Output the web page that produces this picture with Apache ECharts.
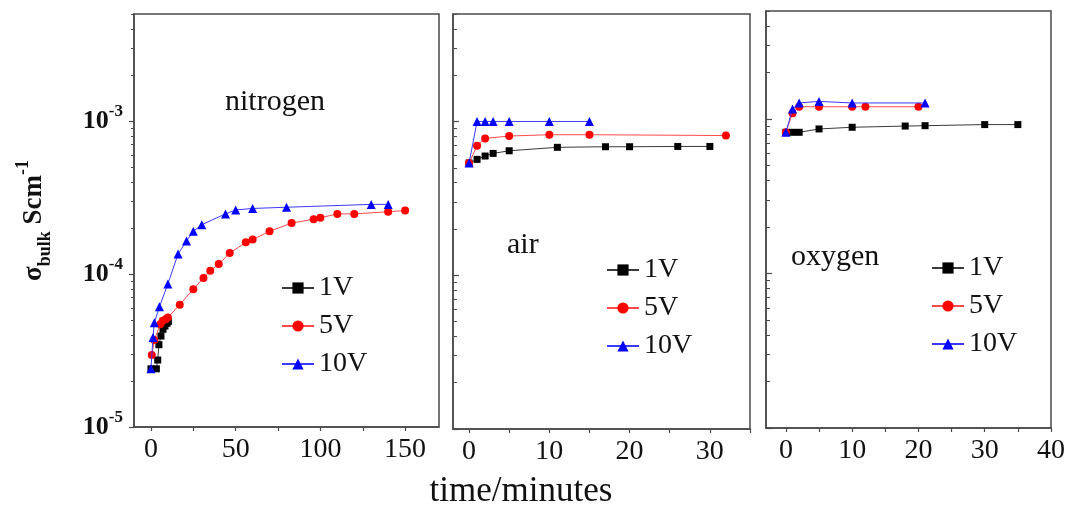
<!DOCTYPE html>
<html><head><meta charset="utf-8">
<script src="https://cdn.jsdelivr.net/npm/echarts@6/dist/echarts.min.js"></script>
<style>html,body{margin:0;padding:0;background:#fff}#c{width:1072px;height:512px}</style>
</head><body><div id="c"></div>
<script>
// ---------- data (time in minutes, sigma_bulk in S/cm) ----------
const seriesNames = ['1V', '5V', '10V'];
const panelNames = ['nitrogen', 'air', 'oxygen'];

const n2_1V = [[0,2.4e-5],[3.2,2.4e-5],[4,2.74e-5],[4.7,3.45e-5],[5.9,3.93e-5],[7.1,4.35e-5],[8.3,4.57e-5],[9.5,4.76e-5],[10.3,4.9e-5]];
const n2_5V = [[0.5,2.95e-5],[2,3.7e-5],[5.5,4.7e-5],[7,4.95e-5],[8.5,5.05e-5],[10,5.2e-5],[17,6.3e-5],[25,7.95e-5],[31,9.4e-5],[35,1.05e-4],[40,1.16e-4],[46.5,1.37e-4],[56,1.61e-4],[60,1.68e-4],[70,1.9e-4],[83,2.15e-4],[96,2.28e-4],[100,2.33e-4],[110,2.47e-4],[120,2.47e-4],[140,2.55e-4],[150,2.6e-4]];
const n2_10V = [[0,2.4e-5],[1.2,3.85e-5],[2,4.8e-5],[5,6.1e-5],[10,8.6e-5],[16,1.35e-4],[21,1.64e-4],[25,1.9e-4],[30,2.1e-4],[44,2.47e-4],[50,2.62e-4],[60,2.68e-4],[80,2.73e-4],[130,2.85e-4],[140,2.85e-4]];

const air_1V = [[0,5.37e-4],[1,5.67e-4],[2,5.96e-4],[3,6.2e-4],[5,6.45e-4],[11,6.79e-4],[17,6.85e-4],[20,6.85e-4],[26,6.88e-4],[30,6.88e-4]];
const air_5V = [[0,5.37e-4],[1,6.95e-4],[2,7.76e-4],[5,8.04e-4],[10,8.2e-4],[15,8.2e-4],[32,8.1e-4]];
const air_10V = [[0,5.37e-4],[1,1.0e-3],[2,1.0e-3],[3,1.0e-3],[5,1.0e-3],[10,1.0e-3],[15,1.0e-3]];

const o2_1V = [[0,8.2e-4],[1,8.2e-4],[2,8.2e-4],[5,8.62e-4],[10,8.84e-4],[18,9.0e-4],[21,9.05e-4],[30,9.2e-4],[35,9.2e-4]];
const o2_5V = [[0,8.2e-4],[1,1.09e-3],[2,1.2e-3],[5,1.2e-3],[10,1.2e-3],[12,1.2e-3],[20,1.2e-3]];
const o2_10V = [[0,8.2e-4],[1,1.16e-3],[2,1.27e-3],[5,1.3e-3],[10,1.27e-3],[21,1.27e-3]];

// ---------- ticks ----------
const n2XTicks = [0,25,50,75,100,125,150];
const n2XLabels = [0,50,100,150];
const airXTicks = [0,5,10,15,20,25,30,35];
const airXLabels = [0,10,20,30];
const o2XTicks = [0,5,10,15,20,25,30,35,40];
const o2XLabels = [0,10,20,30,40];
const xRanges = [[-10,170],[-2,35],[-3,40]];
const yMajor = [1e-5,1e-4,1e-3];
const yMajorExp = ['-5','-4','-3'];
const yMinor = [2e-5,3e-5,4e-5,5e-5,6e-5,7e-5,8e-5,9e-5,2e-4,3e-4,4e-4,5e-4,6e-4,7e-4,8e-4,9e-4,2e-3,3e-3,4e-3,5e-3];
const yRange = [1e-5, 5e-3];

// ---------- build ----------
const FONT = 'Liberation Serif';
const AX = '#4a4a4a';
const panelData = [[n2_1V,n2_5V,n2_10V],[air_1V,air_5V,air_10V],[o2_1V,o2_5V,o2_10V]];
const panelXTicks = [n2XTicks, airXTicks, o2XTicks];
const panelXLabels = [n2XLabels, airXLabels, o2XLabels];
const grids = [
  {left:134, top:14, width:305, height:413},
  {left:453, top:14, width:297, height:415},
  {left:766, top:11, width:285, height:417}
];
const styles = [
  {symbol:'rect', size:7, color:'#000000', line:'#3a3a3a'},
  {symbol:'circle', size:8, color:'#ff0000', line:'#ff4a4a'},
  {symbol:'triangle', size:9, color:'#0000ff', line:'#3b3bff'}
];

const grid = grids.map(g => Object.assign({show:true, borderColor:AX, borderWidth:1.5, backgroundColor:'transparent'}, g));
const xAxis = [], yAxis = [], series = [];
for (let p = 0; p < 3; p++) {
  xAxis.push({
    type:'value', gridIndex:p, min:xRanges[p][0], max:xRanges[p][1],
    axisLine:{show:true, onZero:false, lineStyle:{color:AX, width:1.5}},
    axisTick:{show:true, inside:false, length:4, customValues:panelXTicks[p], lineStyle:{color:AX, width:1.2}},
    axisLabel:{show:true, customValues:panelXLabels[p], fontFamily:FONT, fontSize:28, color:'#111', margin:9},
    splitLine:{show:false}
  });
  const inside = p > 0;
  yAxis.push({
    type:'log', logBase:10, gridIndex:p, min:yRange[0], max:yRange[1], position:'left',
    axisLine:{show:true, onZero:false, lineStyle:{color:AX, width:1.5}},
    axisTick:{show:true, inside:inside, length:inside?6:5, customValues:yMajor, lineStyle:{color:AX, width:1.2}},
    axisLabel:{show:p===0, customValues:yMajor, margin:11,
      formatter:function(v){ const i = yMajor.findIndex(m => Math.abs(m - v)/m < 1e-6); return '{b|10}{s|' + (i>=0?yMajorExp[i]:'') + '}'; },
      rich:{ b:{fontFamily:FONT, fontWeight:'bold', fontSize:26, color:'#111', lineHeight:36},
             s:{fontFamily:FONT, fontWeight:'bold', fontSize:17, color:'#111', lineHeight:17, verticalAlign:'top'} }},
    splitLine:{show:false},
    name: p===0 ? '{m|σ}{u|bulk}{m| Scm}{t|-1}' : '',
    nameLocation:'middle', nameRotate:90, nameGap:80,
    nameTextStyle:{ rich:{
      m:{fontFamily:FONT, fontWeight:'bold', fontSize:27, color:'#111', lineHeight:40, verticalAlign:'middle'},
      u:{fontFamily:FONT, fontWeight:'bold', fontSize:18, color:'#111', lineHeight:18, verticalAlign:'bottom'},
      t:{fontFamily:FONT, fontWeight:'bold', fontSize:18, color:'#111', lineHeight:18, verticalAlign:'top'}
    }}
  });
  yAxis.push({
    type:'log', logBase:10, gridIndex:p, min:yRange[0], max:yRange[1], position:'left', offset:0,
    axisLine:{show:false, onZero:false},
    axisTick:{show:true, inside:inside, length:inside?4:3, customValues:yMinor, lineStyle:{color:AX, width:1}},
    axisLabel:{show:false}, splitLine:{show:false}
  });
  for (let s = 0; s < 3; s++) {
    const st = styles[s];
    series.push({
      type:'line', name:seriesNames[s], xAxisIndex:p, yAxisIndex:2*p,
      data:panelData[p][s], symbol:st.symbol, symbolSize:st.size, showSymbol:true,
      itemStyle:{color:st.color}, lineStyle:{color:st.line, width:1},
      z: 2 + s
    });
  }
}

const legendBase = {
  orient:'vertical', data:seriesNames, selectedMode:false,
  itemWidth:32, itemHeight:14, itemGap:10,
  textStyle:{fontFamily:FONT, fontSize:28, color:'#111', lineHeight:28}
};
const legend = [
  Object.assign({left:276, top:269}, legendBase),
  Object.assign({left:601, top:251}, legendBase),
  Object.assign({left:926, top:249}, legendBase)
];

const txt = (t, x, y, size, align) => ({type:'text', x:x, y:y, z:10,
  style:{text:t, fontFamily:FONT, fontSize:size, fill:'#111', align:align||'left', verticalAlign:'middle'}});
const graphic = [
  txt(panelNames[0], 225, 102, 30),
  txt(panelNames[1], 507, 245, 30),
  txt(panelNames[2], 791, 257, 30),
  txt('time/minutes', 521, 492, 35, 'center')
];

const chart = echarts.init(document.getElementById('c'), null, {renderer:'canvas'});
chart.setOption({animation:false, backgroundColor:'#fff', grid, xAxis, yAxis, series, legend, graphic});
</script></body></html>
